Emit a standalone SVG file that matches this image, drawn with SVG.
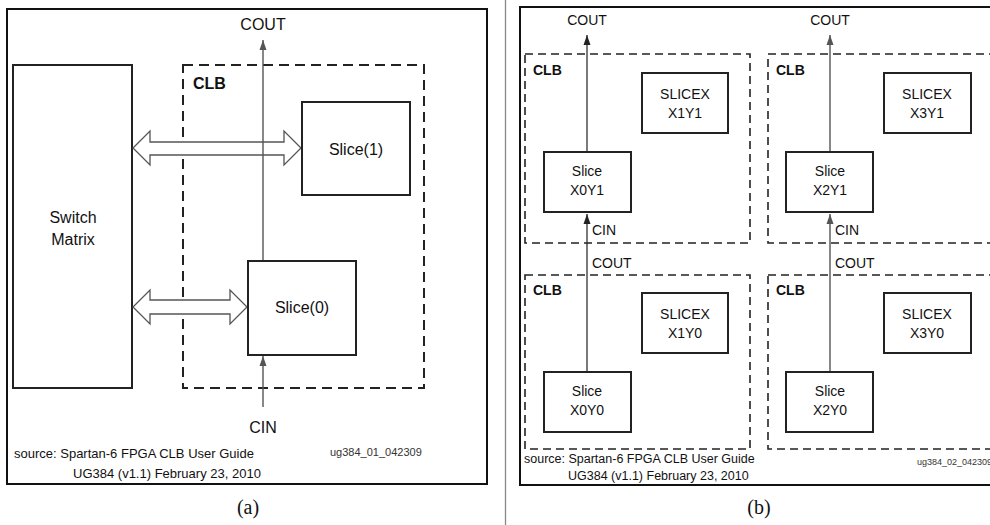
<svg xmlns="http://www.w3.org/2000/svg" width="990" height="525" viewBox="0 0 990 525">
<defs>
<marker id="ahb" viewBox="0 0 10 10" refX="10" refY="5" markerWidth="10" markerHeight="10" markerUnits="userSpaceOnUse" orient="auto">
<path d="M0,1.5 L10,5 L0,8.5 Z" fill="#222"/>
</marker>
<marker id="ahg" viewBox="0 0 10 10" refX="10" refY="5" markerWidth="10" markerHeight="10" markerUnits="userSpaceOnUse" orient="auto">
<path d="M0,1.5 L10,5 L0,8.5 Z" fill="#555"/>
</marker>
</defs>
<style>
.frame{fill:#fff;stroke:#111;stroke-width:2}
.box{fill:#fff;stroke:#222;stroke-width:2}
.clba{fill:none;stroke:#222;stroke-width:2;stroke-dasharray:10,6}
.clbb{fill:none;stroke:#222;stroke-width:1.6;stroke-dasharray:8,5}
.t{font-family:"Liberation Sans",Arial,sans-serif;fill:#111}
.ta{font-size:16px}
.tb{font-size:14px}
.bold{font-weight:bold}
.src{font-size:13px}
.src2{font-size:12.5px}
.tiny{font-size:11px;fill:#333}
.tiny2{font-size:9px;fill:#333}
.cap{font-family:"Liberation Serif","Times New Roman",serif;font-size:20px;fill:#111}
.ln{fill:none;stroke:#555;stroke-width:1.4}
.lnb{fill:none;stroke:#222;stroke-width:1.2}
.bus{fill:#fff;stroke:#555;stroke-width:1.3}
</style>
<rect width="990" height="525" fill="#fff"/>
<line x1="505.5" y1="0" x2="505.5" y2="525" stroke="#888" stroke-width="1.3"/>

<!-- Panel (a) -->
<g id="panel-a">
<rect class="frame" x="7" y="9" width="480" height="475"/>
</g>
<g id="switch-matrix">
<rect class="box" x="13" y="65" width="119" height="323"/>
<text class="t ta" x="73" y="223" text-anchor="middle">Switch</text>
<text class="t ta" x="73" y="245" text-anchor="middle">Matrix</text>
</g>
<g id="clb-a">
<rect class="clba" x="183" y="65" width="241" height="323"/>
<text class="t ta bold" x="193" y="89">CLB</text>
</g>
<g id="connectors-a">
<path class="bus" d="M133,148 L150,131 L150,142 L284,142 L284,131 L301,148 L284,165 L284,155 L150,155 L150,165 Z"/>
<path class="bus" d="M133,307 L150,290 L150,300 L230,300 L230,290 L247,307 L230,324 L230,314 L150,314 L150,324 Z"/>
<line class="ln" x1="263" y1="261" x2="263" y2="40" marker-end="url(#ahg)"/>
<line class="ln" x1="263" y1="407" x2="263" y2="356" marker-end="url(#ahg)"/>
</g>
<g id="slice1">
<rect class="box" x="302" y="102" width="108" height="93"/>
<text class="t ta" x="356" y="155" text-anchor="middle">Slice(1)</text>
</g>
<g id="slice0">
<rect class="box" x="248" y="261" width="108" height="94"/>
<text class="t ta" x="302" y="313" text-anchor="middle">Slice(0)</text>
</g>
<g id="labels-a">
<text class="t ta" x="263" y="30" text-anchor="middle">COUT</text>
<text class="t ta" x="263" y="433" text-anchor="middle">CIN</text>
<text class="t src" x="14" y="458">source: Spartan-6 FPGA CLB User Guide</text>
<text class="t src" x="73" y="478">UG384 (v1.1) February 23, 2010</text>
<text class="t tiny" x="330" y="456">ug384_01_042309</text>
<text class="cap" x="248" y="514" text-anchor="middle">(a)</text>
</g>

<!-- Panel (b) -->
<g id="panel-b">
<path class="frame" d="M1000,7 L520,7 L520,485 L1000,485"/>
</g>
<g id="clb-b-tl">
<rect class="clbb" x="525" y="54" width="225" height="189"/>
<text class="t tb bold" x="533" y="75">CLB</text>
</g>
<g id="clb-b-tr">
<rect class="clbb" x="768" y="54" width="240" height="189"/>
<text class="t tb bold" x="776" y="75">CLB</text>
</g>
<g id="clb-b-bl">
<rect class="clbb" x="525" y="275" width="225" height="174"/>
<text class="t tb bold" x="533" y="295">CLB</text>
</g>
<g id="clb-b-br">
<rect class="clbb" x="768" y="275" width="240" height="174"/>
<text class="t tb bold" x="776" y="295">CLB</text>
</g>
<g id="connectors-b">
<line class="lnb" x1="587" y1="151" x2="587" y2="35" marker-end="url(#ahb)"/>
<line class="lnb" x1="587" y1="372" x2="587" y2="214" marker-end="url(#ahb)"/>
<line class="ln" x1="830" y1="151" x2="830" y2="35" marker-end="url(#ahg)"/>
<line class="ln" x1="830" y1="372" x2="830" y2="214" marker-end="url(#ahg)"/>
</g>
<g id="slice-x0y1">
<rect class="box" x="544" y="152" width="87" height="60"/>
<text class="t tb" x="587" y="176" text-anchor="middle">Slice</text>
<text class="t tb" x="587" y="195" text-anchor="middle">X0Y1</text>
</g>
<g id="slicex-x1y1">
<rect class="box" x="642" y="73" width="86" height="60"/>
<text class="t tb" x="685" y="99" text-anchor="middle">SLICEX</text>
<text class="t tb" x="685" y="118" text-anchor="middle">X1Y1</text>
</g>
<g id="slice-x2y1">
<rect class="box" x="786" y="152" width="87" height="60"/>
<text class="t tb" x="830" y="176" text-anchor="middle">Slice</text>
<text class="t tb" x="830" y="195" text-anchor="middle">X2Y1</text>
</g>
<g id="slicex-x3y1">
<rect class="box" x="884" y="73" width="87" height="60"/>
<text class="t tb" x="927" y="99" text-anchor="middle">SLICEX</text>
<text class="t tb" x="927" y="118" text-anchor="middle">X3Y1</text>
</g>
<g id="slice-x0y0">
<rect class="box" x="544" y="372" width="87" height="60"/>
<text class="t tb" x="587" y="396" text-anchor="middle">Slice</text>
<text class="t tb" x="587" y="415" text-anchor="middle">X0Y0</text>
</g>
<g id="slicex-x1y0">
<rect class="box" x="642" y="293" width="86" height="60"/>
<text class="t tb" x="685" y="319" text-anchor="middle">SLICEX</text>
<text class="t tb" x="685" y="338" text-anchor="middle">X1Y0</text>
</g>
<g id="slice-x2y0">
<rect class="box" x="786" y="372" width="87" height="60"/>
<text class="t tb" x="830" y="396" text-anchor="middle">Slice</text>
<text class="t tb" x="830" y="415" text-anchor="middle">X2Y0</text>
</g>
<g id="slicex-x3y0">
<rect class="box" x="884" y="293" width="87" height="60"/>
<text class="t tb" x="927" y="319" text-anchor="middle">SLICEX</text>
<text class="t tb" x="927" y="338" text-anchor="middle">X3Y0</text>
</g>
<g id="labels-b">
<text class="t tb" x="587" y="25" text-anchor="middle">COUT</text>
<text class="t tb" x="830" y="25" text-anchor="middle">COUT</text>
<text class="t tb" x="592" y="235">CIN</text>
<text class="t tb" x="835" y="235">CIN</text>
<text class="t tb" x="592" y="268">COUT</text>
<text class="t tb" x="835" y="268">COUT</text>
<text class="t src2" x="524" y="463">source: Spartan-6 FPGA CLB User Guide</text>
<text class="t src2" x="568" y="480">UG384 (v1.1) February 23, 2010</text>
<text class="t tiny2" x="917" y="465">ug384_02_042309</text>
<text class="cap" x="759" y="514" text-anchor="middle">(b)</text>
</g>
</svg>
